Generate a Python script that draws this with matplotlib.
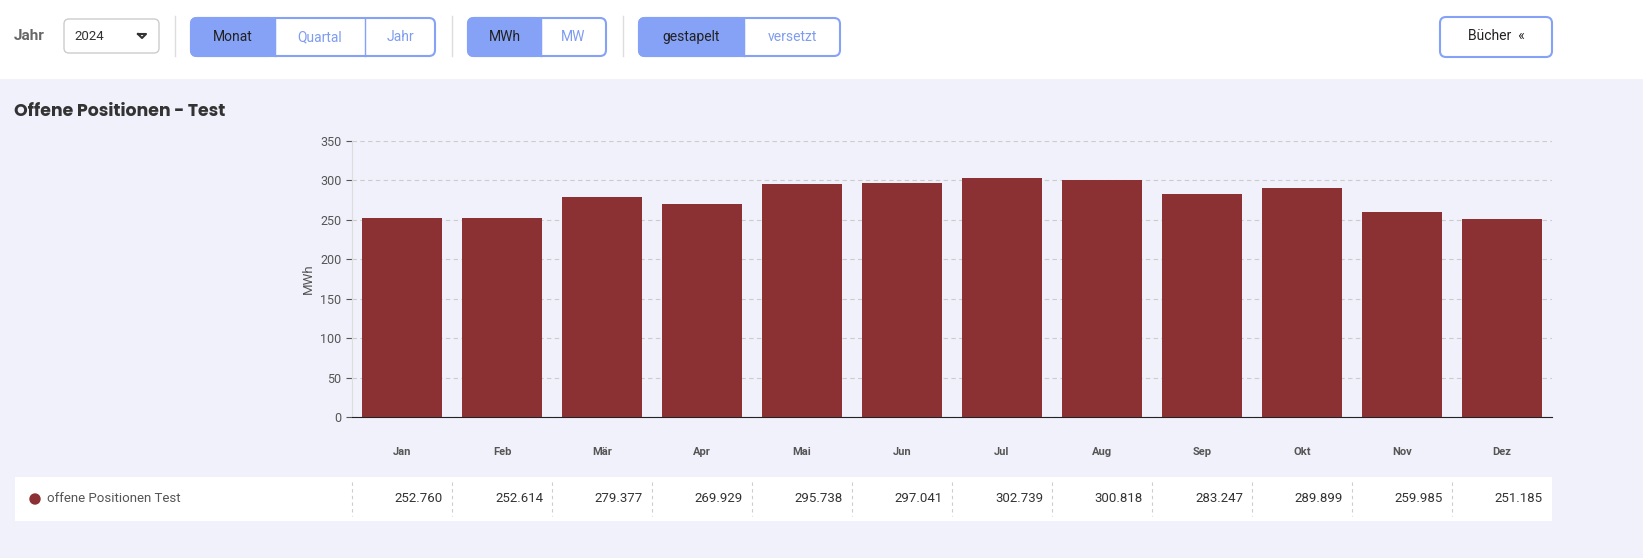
import matplotlib
matplotlib.use("Agg")
import matplotlib.pyplot as plt
from matplotlib.patches import FancyBboxPatch, Rectangle, Circle

months = ["Jan","Feb","Mär","Apr","Mai","Jun","Jul","Aug","Sep","Okt","Nov","Dez"]
values = [252.760,252.614,279.377,269.929,295.738,297.041,302.739,300.818,283.247,289.899,259.985,251.185]
series_name = "offene Positionen Test"
yticks = [0,50,100,150,200,250,300,350]

W, H = 1643, 558
plt.rcParams['font.family'] = ['Roboto', 'DejaVu Sans']
fig = plt.figure(figsize=(W/100, H/100), dpi=100)
fig.patch.set_facecolor('#f0f1fa')

bg = fig.add_axes([0,0,1,1], zorder=0)
bg.set_xlim(0,W); bg.set_ylim(H,0); bg.axis('off')
bg.add_patch(Rectangle((0,0),W,78,color='white'))
blue = '#86a2f7'; blue_txt = '#7f9cf0'
bg.text(14,36,"Jahr",fontsize=11,fontweight='bold',color='#666',va='center')
bg.add_patch(FancyBboxPatch((64,19),95,34,boxstyle="round,pad=0,rounding_size=5",fc='white',ec='#ccc',lw=1))
bg.text(74,36,"2024",fontsize=9.5,color='#333',va='center')
bg.plot([138,146,142,138],[34,34,38,34],color='#333',lw=1.5)
for x in (175,452,623):
    bg.plot([x,x],[16,56],color='#ddd',lw=1)
def group(x0,widths,labels):
    tot=sum(widths)
    bg.add_patch(FancyBboxPatch((x0,18),tot,38,boxstyle="round,pad=0,rounding_size=6",fc='white',ec=blue,lw=1.5))
    x=x0
    for i,(w,l) in enumerate(zip(widths,labels)):
        if i==0:
            bg.add_patch(FancyBboxPatch((x,18),w,38,boxstyle="round,pad=0,rounding_size=6",fc=blue,ec=blue,lw=1.5))
            bg.add_patch(Rectangle((x+w-8,18),8,38,fc=blue,ec='none'))
        else:
            bg.plot([x,x],[18,56],color=blue,lw=1)
        bg.text(x+w/2,37,l,fontsize=10,ha='center',va='center',color='#222' if i==0 else blue_txt)
        x+=w
group(191,[84,90,70],["Monat","Quartal","Jahr"])
group(468,[73,65],["MWh","MW"])
group(639,[105,96],["gestapelt","versetzt"])
bg.add_patch(FancyBboxPatch((1440,17),112,40,boxstyle="round,pad=0,rounding_size=6",fc='white',ec=blue,lw=1.5))
bg.text(1496,36,"Bücher  «",fontsize=10,ha='center',va='center',color='#222')
bg.text(14,112,"Offene Positionen - Test",fontsize=12.5,fontweight='bold',color='#333',va='center',family=['Poppins','Open Sans','DejaVu Sans'])
# table
bg.add_patch(Rectangle((15,477),1537,44,fc='white',ec='none'))
bg.add_patch(Circle((35,499),5,color='#8b3033'))
bg.text(47,499,series_name,fontsize=9.5,color='#555',va='center')
for i,v in enumerate(values):
    x=352+100*i
    bg.plot([x,x],[482,516],color='#ccc',lw=0.8,ls=(0,(3,3)))
    bg.text(x+91,499,f"{v:.3f}",fontsize=9.5,color='#333',ha='right',va='center')
for i,m in enumerate(months):
    bg.text(402+100*i,452,m,fontsize=8,fontweight='bold',color='#555',ha='center',va='center')

ax = fig.add_axes([352/W,(H-417)/H,1200/W,276/H], zorder=1)
ax.patch.set_alpha(0)
ax.bar(range(12),values,width=0.8,color='#8b3033',zorder=3)
ax.set_xlim(-0.5,11.5); ax.set_ylim(0,350)
ax.set_yticks(yticks)
ax.tick_params(axis='y',labelsize=9,colors='#555',length=4)
ax.set_xticks([])
ax.grid(axis='y',color='#ccc',ls=(0,(4,3)),lw=0.8)
for s in ('top','right'): ax.spines[s].set_visible(False)
ax.spines['left'].set_color('#ddd')
ax.spines['bottom'].set_color('#222')
ax.set_ylabel("MWh",fontsize=9.5,color='#555')
fig.savefig("out.png",dpi=100,facecolor=fig.get_facecolor())
